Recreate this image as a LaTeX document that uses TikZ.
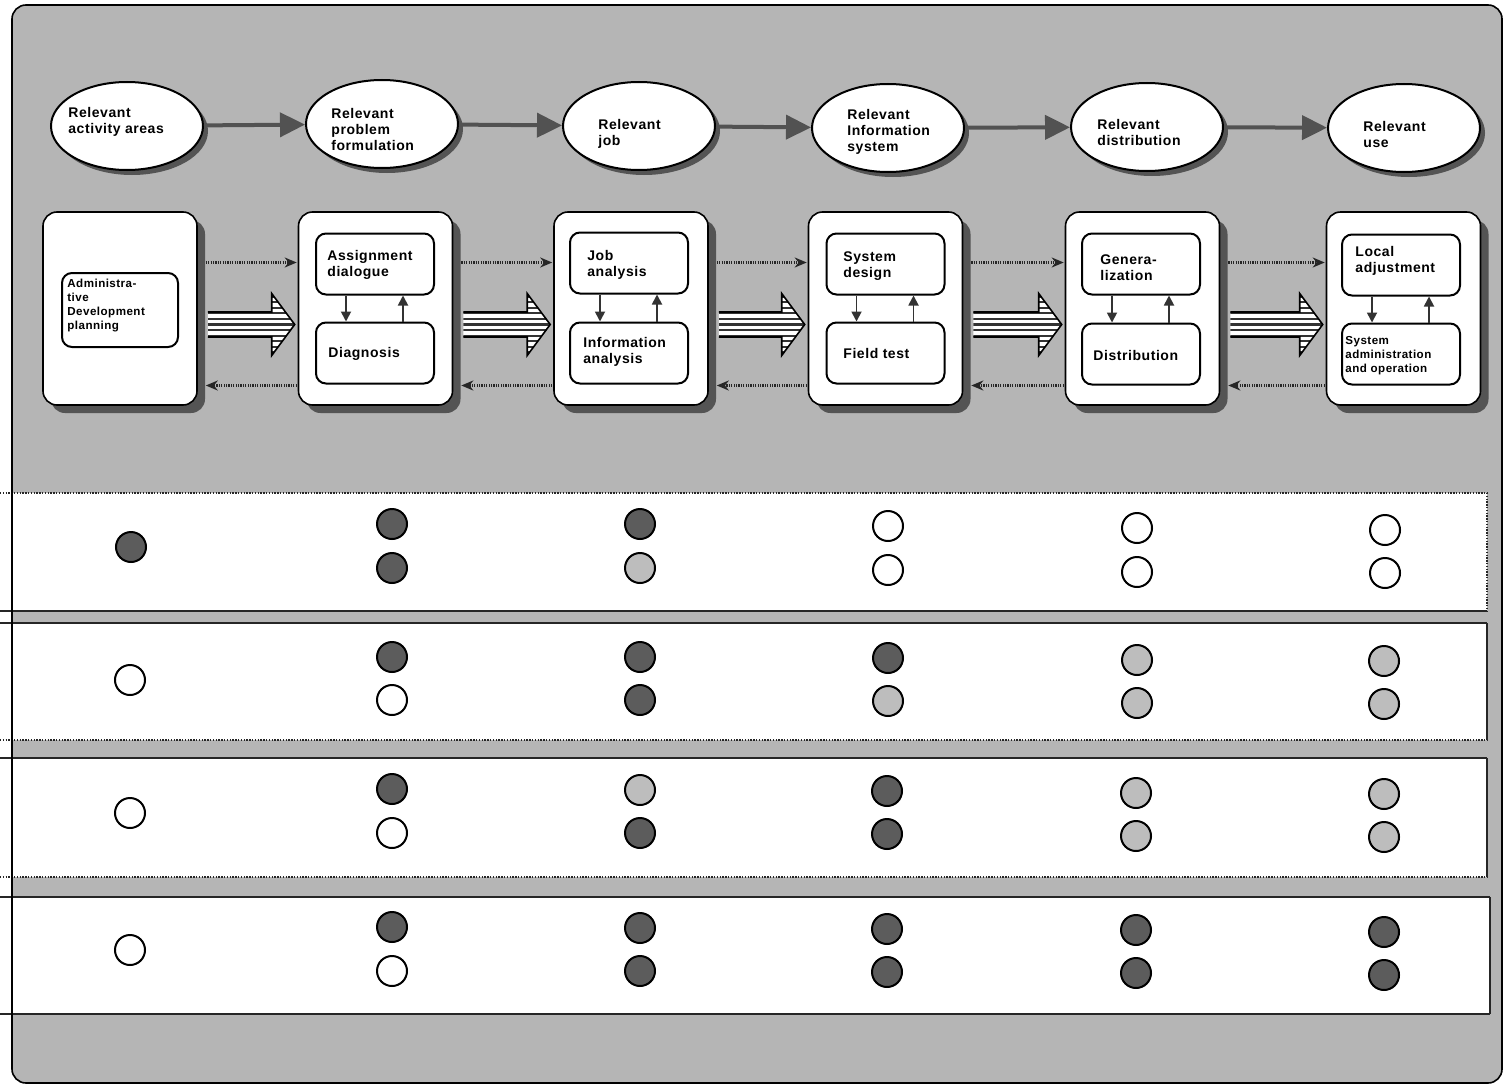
\documentclass[tikz,border=0pt]{standalone}
\usepackage{fontspec}
\setmainfont{Liberation Sans}
\newfontfamily\labfont[LetterSpace=4]{Liberation Sans}
\usetikzlibrary{arrows.meta,shapes.geometric,shadows,calc}
\definecolor{bggray}{gray}{0.71}
\definecolor{shadowgray}{gray}{0.33}
\definecolor{darkdot}{gray}{0.36}
\definecolor{lightdot}{gray}{0.74}
\definecolor{arrowgray}{gray}{0.32}
\begin{document}
\begin{tikzpicture}[x=0.5pt,y=-0.5pt,
  lab/.style={inner sep=0pt, anchor=west, align=left, font=\labfont\bfseries\fontsize{7}{8}\selectfont},
  smalllab/.style={inner sep=0pt, anchor=west, align=left, font=\labfont\bfseries\fontsize{5.8}{7}\selectfont},
  ell/.style={ellipse, draw, line width=1pt, fill=white, minimum width=76pt, minimum height=44pt, inner sep=0pt,
    drop shadow={shadow xshift=2.5pt,shadow yshift=-2.5pt,fill=shadowgray,opacity=1}},
  bigbox/.style={rectangle, rounded corners=7pt, draw, line width=0.8pt, fill=white, minimum width=77pt, minimum height=96.5pt, inner sep=0pt,
    drop shadow={shadow xshift=4pt,shadow yshift=-4pt,fill=shadowgray,opacity=1}},
  innerbox/.style={rectangle, rounded corners=5pt, draw, line width=1pt, fill=white, minimum width=59pt, minimum height=30.5pt, inner sep=0pt},
  ellarrow/.style={line width=2pt, draw=arrowgray, -{Triangle[length=12.5pt,width=12pt,fill=arrowgray]}},
  dotarrow/.style={line width=1.2pt, dash pattern=on 0.6pt off 0.6pt, draw=black!85, -{Stealth[length=6pt,width=5pt,fill=black!80]}},
  innerarrow/.style={line width=0.9pt, draw=black!80, -{Triangle[length=5pt,width=5pt]}},
  rowline/.style={line width=0.8pt, draw=black!85},
  rowdotted/.style={line width=1pt, draw=black!85, dash pattern=on 0.7pt off 0.7pt},
  dotbase/.style={circle, draw, line width=1pt, minimum size=15pt, inner sep=0pt},
  dotdark/.style={dotbase, fill=darkdot},
  dotlight/.style={dotbase, fill=lightdot},
  dotopen/.style={dotbase, fill=white}
]
\useasboundingbox (0,0) rectangle (1508,1086);
\fill[white] (0,0) rectangle (1508,1086);
% frame
\fill[bggray, rounded corners=7pt] (12,5) rectangle (1502,1083);

% rows
\fill[white] (12,493) rectangle (1487,611);
\fill[white] (12,623) rectangle (1487,740);
\fill[white] (12,758) rectangle (1487,877);
\fill[white] (12,897) rectangle (1490,1014);
\draw[rowdotted] (0,493) -- (1487,493);
\draw[rowline] (0,611) -- (1487,611);
\draw[rowline] (0,623) -- (1487,623);
\draw[rowdotted] (0,740) -- (1487,740);
\draw[rowline] (0,758) -- (1487,758);
\draw[rowdotted] (0,877) -- (1487,877);
\draw[rowline] (0,897) -- (1490,897);
\draw[rowline] (0,1014) -- (1490,1014);
\draw[rowdotted] (1487,493) -- (1487,611);
\draw[rowline] (1487,623) -- (1487,740);
\draw[rowline] (1487,758) -- (1487,877);
\draw[rowline] (1490,897) -- (1490,1014);

\draw[line width=0.8pt, rounded corners=7pt] (12,5) rectangle (1502,1083);

% ellipses
\node[ell] (e1) at (127,126) {};
\node[ell] (e2) at (382,124) {};
\node[ell] (e3) at (639,126) {};
\node[ell] (e4) at (888,128) {};
\node[ell] (e5) at (1147,127) {};
\node[ell] (e6) at (1404,128) {};
\node[lab] (t1) at (68,122) {Relevant\\activity areas};
\node[lab] (t2) at (331,129) {Relevant\\problem\\formulation};
\node[lab] (t3) at (598,134) {Relevant\\job};
\node[lab] (t4) at (847,132) {Relevant\\Information\\system};
\node[lab] (t5) at (1097,132) {Relevant\\distribution};
\node[lab] (t6) at (1363,134) {Relevant\\use};
\draw[ellarrow] (e1) -- (e2);
\draw[ellarrow] (e2) -- (e3);
\draw[ellarrow] (e3) -- (e4);
\draw[ellarrow] (e4) -- (e5);
\draw[ellarrow] (e5) -- (e6);

% big boxes
\node[bigbox] (b1) at (120,308.5) {};
\node[bigbox] (b2) at (375.5,308.5) {};
\node[bigbox] (b3) at (631,308.5) {};
\node[bigbox] (b4) at (885.5,308.5) {};
\node[bigbox] (b5) at (1142.5,308.5) {};
\node[bigbox] (b6) at (1403.5,308.5) {};

% inner boxes
\node[innerbox, minimum width=58pt, minimum height=37pt] (b1i) at (120,310) {};
\node[innerbox] (b2t) at (375,264) {};
\node[innerbox] (b2b) at (375,353) {};
\node[innerbox] (b3t) at (629,263) {};
\node[innerbox] (b3b) at (629,353) {};
\node[innerbox] (b4t) at (885.5,264) {};
\node[innerbox] (b4b) at (885.5,353) {};
\node[innerbox] (b5t) at (1141,264) {};
\node[innerbox] (b5b) at (1141,354) {};
\node[innerbox] (b6t) at (1401,265) {};
\node[innerbox] (b6b) at (1401,354) {};

\node[smalllab] (l1) at (67,306) {Administra-\\tive\\Development\\planning};
\node[lab] (l2t) at (327,265) {Assignment\\dialogue};
\node[lab] (l2b) at (328,354) {Diagnosis};
\node[lab] (l3t) at (587,265) {Job\\analysis};
\node[lab] (l3b) at (583,352) {Information\\analysis};
\node[lab] (l4t) at (843,266) {System\\design};
\node[lab] (l4b) at (843,353) {Field test};
\node[lab] (l5t) at (1100,268) {Genera-\\lization};
\node[lab] (l5b) at (1093,355) {Distribution};
\node[lab] (l6t) at (1355,261) {Local\\adjustment};
\node[smalllab] (l6b) at (1345,356) {System\\administration\\and operation};

% inner arrows
\foreach \p in {b2,b3,b4,b5,b6}{
  \draw[innerarrow] ($(\p t.south west)+(31,0)$) -- ($(\p b.north west)+(31,0)$);
  \draw[innerarrow] ($(\p b.north west)+(88,0)$) -- ($(\p t.south west)+(88,0)$);
}

% connectors between boxes
\foreach \a/\b in {b1/b2,b2/b3,b3/b4,b4/b5,b5/b6}{
  \draw[dotarrow] ($(\a.east)+(8,-46)$) -- ($(\b.west)+(-1,-46)$);
  \draw[dotarrow] ($(\b.west)+(-1,77)$) -- ($(\a.east)+(8,77)$);
  \coordinate (s) at ($(\a.east)+(10,16)$);
  \coordinate (t) at ($(\b.west)+(-3,16)$);
  \fill[white] ($(s)+(0,-12.5)$) -- ($(t)+(-23,-12.5)$) -- ($(t)+(-23,-31)$) -- (t) -- ($(t)+(-23,31)$) -- ($(t)+(-23,12.5)$) -- ($(s)+(0,12.5)$) -- cycle;
  \begin{scope}
    \clip ($(s)+(0,-12.5)$) -- ($(t)+(-23,-12.5)$) -- ($(t)+(-23,-31)$) -- (t) -- ($(t)+(-23,31)$) -- ($(t)+(-23,12.5)$) -- ($(s)+(0,12.5)$) -- cycle;
    \foreach \k in {-5,...,5}{
      \draw[line width=1.1pt, draw=black!80] ($(s)+(0,\k*5.6)$) -- ($(t)+(0,\k*5.6)$);
    }
  \end{scope}
  \draw[line width=0.8pt, line join=miter] ($(s)+(0,-12.5)$) -- ($(t)+(-23,-12.5)$) -- ($(t)+(-23,-31)$) -- (t) -- ($(t)+(-23,31)$) -- ($(t)+(-23,12.5)$) -- ($(s)+(0,12.5)$);
}

% row 1
\node[dotdark] (r1a) at (131,547) {};
\node[dotdark] (r1b1) at (392,524) {};
\node[dotdark] (r1b2) at (392,568) {};
\node[dotdark] (r1c1) at (640,524) {};
\node[dotlight] (r1c2) at (640,568) {};
\node[dotopen] (r1d1) at (888,526) {};
\node[dotopen] (r1d2) at (888,570) {};
\node[dotopen] (r1e1) at (1137,528) {};
\node[dotopen] (r1e2) at (1137,572) {};
\node[dotopen] (r1f1) at (1385,530) {};
\node[dotopen] (r1f2) at (1385,573) {};
% row 2
\node[dotopen] (r2a) at (130,680) {};
\node[dotdark] (r2b1) at (392,657) {};
\node[dotopen] (r2b2) at (392,700) {};
\node[dotdark] (r2c1) at (640,657) {};
\node[dotdark] (r2c2) at (640,700) {};
\node[dotdark] (r2d1) at (888,658) {};
\node[dotlight] (r2d2) at (888,701) {};
\node[dotlight] (r2e1) at (1137,660) {};
\node[dotlight] (r2e2) at (1137,703) {};
\node[dotlight] (r2f1) at (1384,661) {};
\node[dotlight] (r2f2) at (1384,704) {};
% row 3
\node[dotopen] (r3a) at (130,813) {};
\node[dotdark] (r3b1) at (392,789) {};
\node[dotopen] (r3b2) at (392,833) {};
\node[dotlight] (r3c1) at (640,790) {};
\node[dotdark] (r3c2) at (640,833) {};
\node[dotdark] (r3d1) at (887,791) {};
\node[dotdark] (r3d2) at (887,834) {};
\node[dotlight] (r3e1) at (1136,793) {};
\node[dotlight] (r3e2) at (1136,836) {};
\node[dotlight] (r3f1) at (1384,794) {};
\node[dotlight] (r3f2) at (1384,837) {};
% row 4
\node[dotopen] (r4a) at (130,950) {};
\node[dotdark] (r4b1) at (392,927) {};
\node[dotopen] (r4b2) at (392,971) {};
\node[dotdark] (r4c1) at (640,928) {};
\node[dotdark] (r4c2) at (640,971) {};
\node[dotdark] (r4d1) at (887,929) {};
\node[dotdark] (r4d2) at (887,972) {};
\node[dotdark] (r4e1) at (1136,930) {};
\node[dotdark] (r4e2) at (1136,973) {};
\node[dotdark] (r4f1) at (1384,932) {};
\node[dotdark] (r4f2) at (1384,975) {};
\end{tikzpicture}
\end{document}
